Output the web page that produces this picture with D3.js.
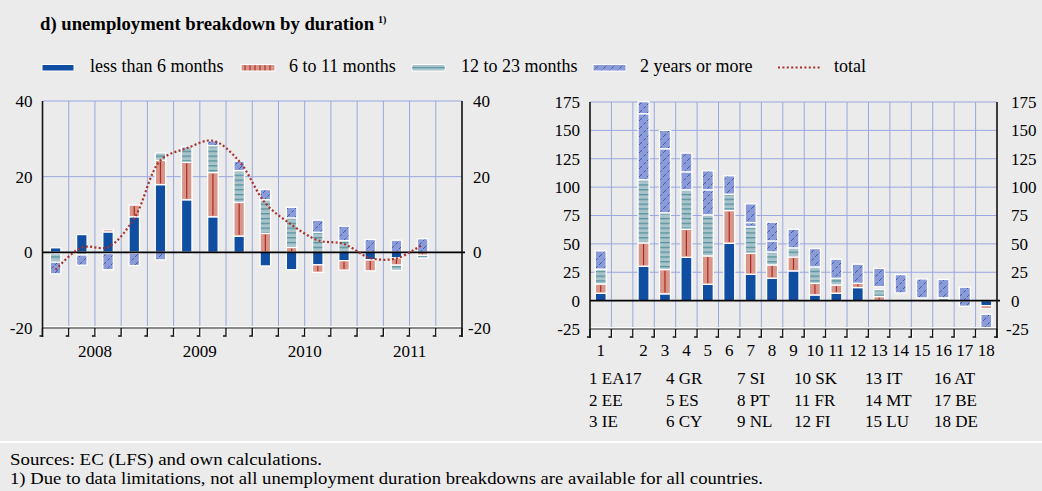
<!DOCTYPE html>
<html><head><meta charset="utf-8">
<script src="https://cdn.jsdelivr.net/npm/d3@7"></script>
<style>
html,body{margin:0;padding:0;background:#ebebeb;}
svg{display:block;font-family:"Liberation Serif","Times New Roman",serif;}
</style></head><body>
<svg id="c" width="1042" height="491"></svg>
<script>
// ---------- DATA ----------
// Left panel: quarterly change (2008Q1 - 2011Q3), 16 quarter slots 2008Q1..2011Q4
const quarterSlots = ["2008Q1","2008Q2","2008Q3","2008Q4","2009Q1","2009Q2","2009Q3","2009Q4",
                      "2010Q1","2010Q2","2010Q3","2010Q4","2011Q1","2011Q2","2011Q3","2011Q4"];
const yearLabels = ["2008","2009","2010","2011"];
const lt6Q   = [1.2, 4.7, 5.4, 9.4, 17.9, 13.9, 9.4, 4.3, -3.6, -4.6, -3.3, -2.2, -2.0, -1.5, 0];
const m6Q    = [-0.3, 0, 0.6, 3.1, 6.4, 9.9, 11.7, 8.9, 5.0, 1.3, -2.0, -2.5, -2.9, -1.9, -0.8];
const m12Q   = [-2.3, -0.7, -0.3, -0.2, 2.0, 4.1, 7.1, 8.4, 8.9, 7.8, 5.3, 3.1, 0, -1.4, -0.7];
const y2Q    = [-3.1, -2.7, -4.3, -3.3, -2.0, -0.4, 1.3, 2.5, 2.7, 2.8, 3.2, 3.8, 3.4, 3.2, 3.6];
const totalQ = [-4.6, 1.3, 1.4, 9.0, 24.3, 27.5, 29.5, 24.1, 13.0, 7.3, 3.2, 2.2, -1.5, -1.6, 2.1];
const yTicksL = [-20, 0, 20, 40];

// Right panel: by country
const countries = ["EA17","EE","IE","GR","ES","CY","SI","PT","NL","SK","FR","FI","IT","MT","LU","AT","BE","DE"];
const xLabelsR = ["1","","2","3","4","5","6","7","8","9","10","11","12","13","14","15","16","17","18"];
const lt6C   = [6.5, 30.3, 6.0, 38.2, 14.4, 50.6, 23.2, 19.7, 26.2, 5.0, 6.5, 11.5, 0, 0, 0, 0, 0, -4.4];
const m6C    = [8.2, 20.6, 21.4, 24.7, 25.0, 28.8, 18.6, 11.8, 12.3, 10.3, 7.3, 3.8, 3.6, 0, 0, 0, 0, -2.6];
const m12C   = [12.5, 55.6, 50.0, 34.7, 36.2, 14.4, 23.2, 11.4, 8.0, 14.4, 5.9, 0, 6.0, 0, 0, 2.2, 0, 0];
const y2C    = [0, 58.2, 56.4, 15.9, 22.0, 0, 3.8, 9.7, 0, 0, 0, 0, 0, 0, 0, 0, -5.0, 0];
const naC    = [0.6, 0, 0, 0, 0, 0, 0, 0, 0, 0, 0, 0, 2.6, 6.8, 2.4, 0.3, 0, -5.0]; // breakdown not available (blank)
const y2TopC = [16.0, 10.6, 16.2, 16.5, 16.8, 16.2, 16.5, 16.5, 16.4, 16.2, 16.8, 16.8, 16.2, 16.1, 16.7, 16.2, 11.8, -12.3];
const yTicksR = [-25, 0, 25, 50, 75, 100, 125, 150, 175];

const legendLabels = ["less than 6 months","6 to 11 months","12 to 23 months","2 years or more","total"];

// ---------- STYLE ----------
const C = {blue:"#0f4ea1", salmon:"#d8958a", redLine:"#ad2a22", grid:"#9ba7de", total:"#a8302b", bg:"#ebebeb"};
const svg = d3.select("#c");
svg.append("rect").attr("width",1042).attr("height",491).attr("fill",C.bg);
const defs = svg.append("defs");
const hp = defs.append("pattern").attr("id","hatch").attr("patternUnits","userSpaceOnUse").attr("width",8).attr("height",8);
hp.append("rect").attr("width",8).attr("height",8).attr("fill","#8a9bd8");
hp.append("path").attr("d","M0,8 L8,0 M-2,2 L2,-2 M6,10 L10,6").attr("stroke","#2d50a5").attr("stroke-width",0.9).attr("stroke-dasharray","3,2");
const tp = defs.append("pattern").attr("id","teal").attr("patternUnits","userSpaceOnUse").attr("width",4).attr("height",4.8);
tp.append("rect").attr("width",4).attr("height",4.8).attr("fill","#a9c4cb");
tp.append("rect").attr("y",2).attr("width",4).attr("height",1.2).attr("fill","#4e8b99");

const fills = {lt6:C.blue, m6:C.salmon, m12:"url(#teal)", y2:"url(#hatch)", na:"none", y2top:"url(#hatch)"};
const FS = 17;

// ---------- TITLE ----------
const title = svg.append("text").attr("x",40).attr("y",30).attr("font-weight","bold").attr("font-size",18.7)
  .text("d) unemployment breakdown by duration");
title.append("tspan").attr("font-size",10).attr("dx",4).attr("dy",-7).text("1)");

// ---------- LEGEND ----------
const lg = svg.append("g");
const lgY = 64.5, lgH = 6.5;
lg.append("rect").attr("x",42).attr("y",lgY).attr("width",32).attr("height",lgH).attr("fill",C.blue).attr("stroke","#fff").attr("stroke-width",1);
lg.append("rect").attr("x",241).attr("y",lgY).attr("width",34).attr("height",lgH).attr("fill",C.salmon).attr("stroke","#fff").attr("stroke-width",1);
d3.range(245,274,5).forEach(x=>lg.append("line").attr("x1",x).attr("x2",x).attr("y1",lgY+0.8).attr("y2",lgY+lgH-0.8).attr("stroke",C.redLine).attr("stroke-width",1.1));
lg.append("rect").attr("x",412).attr("y",lgY).attr("width",33).attr("height",lgH).attr("fill","#a9c4cb").attr("stroke","#fff").attr("stroke-width",1);
lg.append("line").attr("x1",412).attr("x2",445).attr("y1",lgY+lgH/2).attr("y2",lgY+lgH/2).attr("stroke","#4e8b99").attr("stroke-width",1.2);
lg.append("rect").attr("x",593).attr("y",lgY).attr("width",33).attr("height",lgH).attr("fill","url(#hatch)").attr("stroke","#fff").attr("stroke-width",1);
lg.append("line").attr("x1",778).attr("x2",822).attr("y1",67.5).attr("y2",67.5).attr("stroke",C.total).attr("stroke-width",2).attr("stroke-dasharray","2,2.4");
[90,289,461,640,834].forEach((x,i)=>lg.append("text").attr("x",x).attr("y",72).attr("font-size",18).text(legendLabels[i]));

// ---------- PANEL ----------
function panel(o){
  const g = svg.append("g");
  const x = d3.scaleBand().domain(d3.range(o.nBand)).range([o.x0,o.x1]);
  const y = d3.scaleLinear().domain(o.yDomain).range([o.yBottom,o.yTop]);
  const bw = x.bandwidth();
  const ymin = o.yDomain[0];
  // grid
  o.yTicks.filter(t=>t>ymin && t!==0).forEach(t=>g.append("line").attr("x1",o.x0).attr("x2",o.x1).attr("y1",y(t)).attr("y2",y(t)).attr("stroke",C.grid).attr("stroke-width",1));
  d3.range(1,o.nBand).forEach(i=>g.append("line").attr("x1",x(i)).attr("x2",x(i)).attr("y1",y(o.yDomain[1])).attr("y2",y(ymin)).attr("stroke",C.grid).attr("stroke-width",1));
  // bars
  const stack = d3.stack().keys(o.keys).offset(d3.stackOffsetDiverging)(o.rows);
  stack.forEach(s=>{
    s.forEach((d,i)=>{
      if (d[0]===d[1]) return;
      const cx = x(o.slot[i]) + bw/2;
      const yt = Math.min(y(d[0]),y(d[1])), yb = Math.max(y(d[0]),y(d[1]));
      if (s.key==="na") return;
      g.append("rect").attr("x",cx-o.barW/2).attr("y",yt).attr("width",o.barW).attr("height",yb-yt)
        .attr("fill",fills[s.key]).attr("stroke","#fff").attr("stroke-width",1.3);
      if (s.key==="m6" && yb-yt>3) g.append("line").attr("x1",cx).attr("x2",cx).attr("y1",yt+1.2).attr("y2",yb-1.2).attr("stroke",C.redLine).attr("stroke-width",1.2);
    });
  });
  // zero line
  g.append("line").attr("x1",o.x0).attr("x2",o.x1+3).attr("y1",y(0)).attr("y2",y(0)).attr("stroke","#000").attr("stroke-width",1.8);
  // bottom axis
  const yb = y(ymin);
  g.append("line").attr("x1",o.x0).attr("x2",o.x1).attr("y1",yb-1.5).attr("y2",yb-1.5).attr("stroke","#fff").attr("stroke-width",1);
  g.append("line").attr("x1",o.x0).attr("x2",o.x1).attr("y1",yb).attr("y2",yb).attr("stroke","#8a8a8a").attr("stroke-width",2);
  d3.range(0,o.nBand+1).forEach(i=>{
    const xx = i===o.nBand ? o.x1 : x(i);
    g.append("path").attr("d",`M${xx},${yb} V${yb+8} H${xx-3}`).attr("fill","none").attr("stroke","#111").attr("stroke-width",1.4);
    g.append("line").attr("x1",xx+1.3).attr("x2",xx+1.3).attr("y1",yb+1).attr("y2",yb+8).attr("stroke","#fff").attr("stroke-width",1);
  });
  // side axes
  [o.x0,o.x1].forEach(xx=>g.append("line").attr("x1",xx).attr("x2",xx).attr("y1",y(o.yDomain[1])).attr("y2",yb+9).attr("stroke","#111").attr("stroke-width",1.6));
  // tick labels
  o.yTicks.forEach(t=>{
    g.append("text").attr("x",o.x0-10).attr("y",y(t)).attr("dy","0.35em").attr("text-anchor","end").attr("font-size",FS).text(String(t));
    g.append("text").attr("x",o.x1+o.rPad-(t<0?5:0)).attr("y",y(t)).attr("dy","0.35em").attr("text-anchor","start").attr("font-size",FS).text(String(t));
  });
  return {g,x,y,bw};
}

// Left panel
const rowsL = lt6Q.map((v,i)=>({lt6:v, m6:m6Q[i], m12:m12Q[i], y2:y2Q[i]}));
const L = panel({x0:42.5, x1:462, nBand:quarterSlots.length, yDomain:[-20,40], yBottom:328, yTop:101,
  yTicks:yTicksL, keys:["lt6","m6","m12","y2"], rows:rowsL, slot:rowsL.map((d,i)=>i), barW:10.5, rPad:11});
yearLabels.forEach((yr,k)=>{
  L.g.append("text").attr("x",L.x(k*4)+L.bw*2).attr("y",357).attr("text-anchor","middle").attr("font-size",FS).text(yr);
});
const line = d3.line().x((d,i)=>L.x(i)+L.bw/2).y(d=>L.y(d)).curve(d3.curveCatmullRom.alpha(0.5));
L.g.append("path").attr("d",line(totalQ)).attr("fill","none").attr("stroke",C.total).attr("stroke-width",2.2).attr("stroke-dasharray","2,2.3");

// Right panel
const rowsR = countries.map((c,i)=>({lt6:lt6C[i], m6:m6C[i], m12:m12C[i], y2:y2C[i], na:naC[i], y2top:y2TopC[i]}));
const slotR = countries.map((c,i)=>xLabelsR.indexOf(String(i+1)));
const R = panel({x0:590, x1:997, nBand:xLabelsR.length, yDomain:[-25,175], yBottom:329, yTop:102,
  yTicks:yTicksR, keys:["lt6","m6","m12","y2","na","y2top"], rows:rowsR, slot:slotR, barW:11, rPad:14});
xLabelsR.forEach((lab,i)=>{
  R.g.append("text").attr("x",R.x(i)+R.bw/2).attr("y",356).attr("text-anchor","middle").attr("font-size",FS).text(lab);
});
// country key
const colX = [589, 666, 737, 794, 865, 934], rowY = [384, 405.5, 427];
countries.forEach((c,i)=>{
  svg.append("text").attr("x",colX[Math.floor(i/3)]).attr("y",rowY[i%3]).attr("font-size",FS).text((i+1)+" "+c);
});

// ---------- FOOTER ----------
svg.append("line").attr("x1",0).attr("x2",1042).attr("y1",442).attr("y2",442).attr("stroke","#fff").attr("stroke-width",2);
svg.append("text").attr("x",10).attr("y",465).attr("font-size",16).attr("textLength",312).attr("lengthAdjust","spacingAndGlyphs")
  .text("Sources: EC (LFS) and own calculations.");
svg.append("text").attr("x",10).attr("y",484).attr("font-size",16).attr("textLength",753).attr("lengthAdjust","spacingAndGlyphs")
  .text("1) Due to data limitations, not all unemployment duration breakdowns are available for all countries.");
</script>
</body></html>
